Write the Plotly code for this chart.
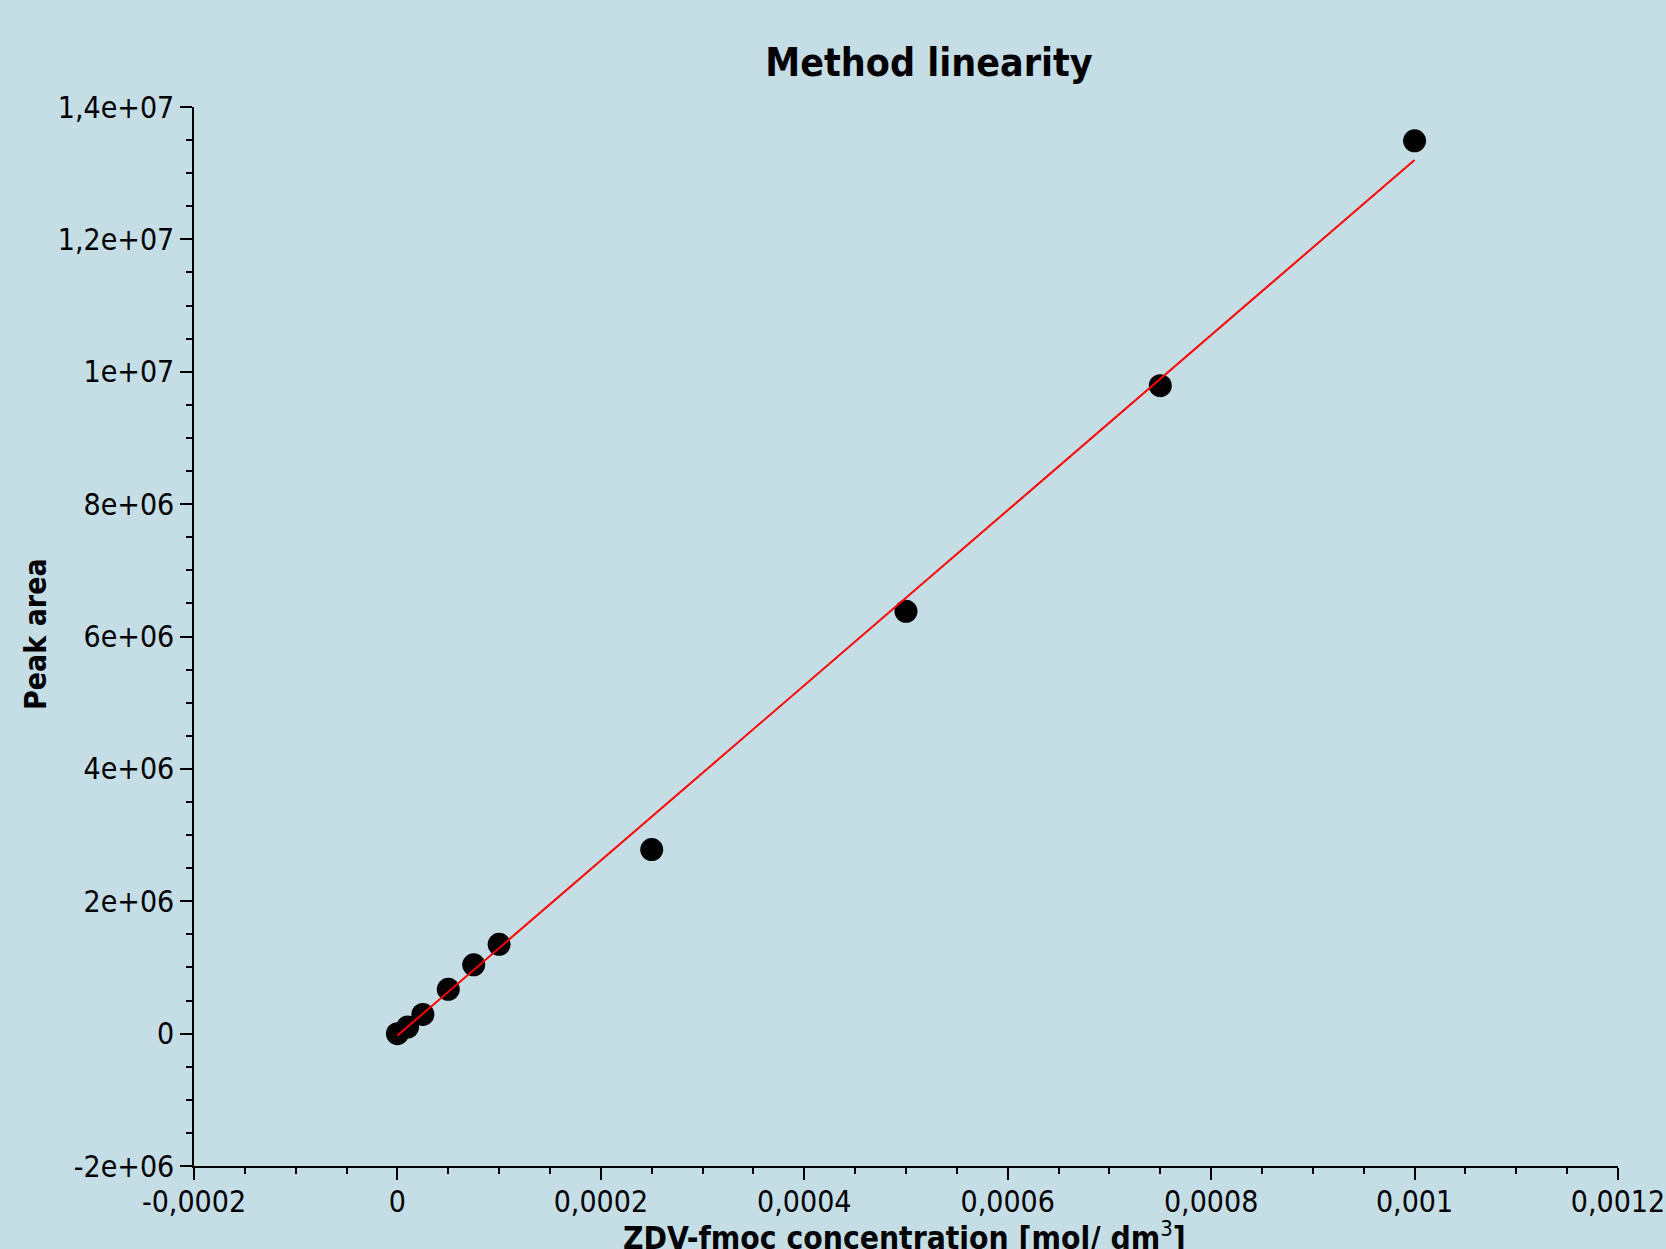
import plotly.graph_objects as go

# Data
conc = [0.0, 0.00001, 0.000025, 0.00005, 0.000075, 0.0001, 0.00025, 0.0005, 0.00075, 0.001]
peak_area = [0.0, 1.0e5, 2.9e5, 6.7e5, 1.04e6, 1.35e6, 2.78e6, 6.38e6, 9.79e6, 1.349e7]

fit_x = [0.0, 0.001]
fit_y = [-3.0e4, 1.320e7]

x_tickvals = [-0.0002, 0.0, 0.0002, 0.0004, 0.0006, 0.0008, 0.001, 0.0012]
x_ticktext = ["-0,0002", "0", "0,0002", "0,0004", "0,0006", "0,0008", "0,001", "0,0012"]
y_tickvals = [-2e6, 0, 2e6, 4e6, 6e6, 8e6, 1e7, 1.2e7, 1.4e7]
y_ticktext = ["-2e+06", "0", "2e+06", "4e+06", "6e+06", "8e+06", "1e+07", "1,2e+07", "1,4e+07"]

FONT = "DejaVu Sans Condensed, DejaVu Sans, sans-serif"
BG = "#c5dee6"

fig = go.Figure()
fig.add_trace(go.Scatter(x=conc, y=peak_area, mode="markers",
                         marker=dict(color="black", size=23, line=dict(width=0)),
                         showlegend=False))
fig.add_trace(go.Scatter(x=fit_x, y=fit_y, mode="lines",
                         line=dict(color="#ff0000", width=2), showlegend=False))

W, H = 1666, 1249
L, R, T, B = 194, 48, 107, 83

fig.update_layout(
    width=W, height=H,
    paper_bgcolor=BG, plot_bgcolor=BG,
    margin=dict(l=L, r=R, t=T, b=B, autoexpand=False),
    font=dict(family=FONT, size=30, color="black"),
    title=dict(text="<b>Method linearity</b>", x=929 / W, xanchor="center",
               y=1 - 62 / H, yanchor="middle", yref="container",
               font=dict(family=FONT, size=39, color="black")),
    xaxis=dict(range=[-0.0002, 0.0012], tickmode="array", tickvals=x_tickvals,
               ticktext=x_ticktext, showgrid=False, zeroline=False,
               showline=True, linecolor="black", linewidth=1.5,
               ticks="outside", ticklen=12, tickwidth=1.5, tickcolor="black",
               ticklabelstandoff=-4,
               minor=dict(dtick=0.00005, tick0=0, ticks="outside", ticklen=6,
                          tickwidth=1.5, tickcolor="black", showgrid=False),
               tickfont=dict(family=FONT, size=30, color="black")),
    yaxis=dict(range=[-2e6, 1.4e7], tickmode="array", tickvals=y_tickvals,
               ticktext=y_ticktext, showgrid=False, zeroline=False,
               showline=True, linecolor="black", linewidth=1.5,
               ticks="outside", ticklen=12, tickwidth=1.5, tickcolor="black",
               minor=dict(dtick=5e5, tick0=0, ticks="outside", ticklen=6,
                          tickwidth=1.5, tickcolor="black", showgrid=False),
               tickfont=dict(family=FONT, size=30, color="black")),
    annotations=[
        dict(text="<b>Peak area</b>", textangle=-90, xref="paper", yref="paper",
             x=(35 - L) / (W - L - R), y=(H - B - 634) / (H - T - B),
             xanchor="center", yanchor="middle", showarrow=False,
             font=dict(family=FONT, size=30, color="black")),
        dict(text="<b>ZDV-fmoc concentration [mol/ dm</b><sup>3</sup><b>]</b>", xref="paper",
             yref="paper", x=(904 - L) / (W - L - R),
             y=-(1236 - (H - B)) / (H - T - B),
             xanchor="center", yanchor="middle", showarrow=False,
             font=dict(family=FONT, size=31.5, color="black")),
    ],
)

fig.write_html("out.html",
               config={"displayModeBar": False},
               post_script="document.body.style.margin='0';document.body.style.overflow='hidden';")
